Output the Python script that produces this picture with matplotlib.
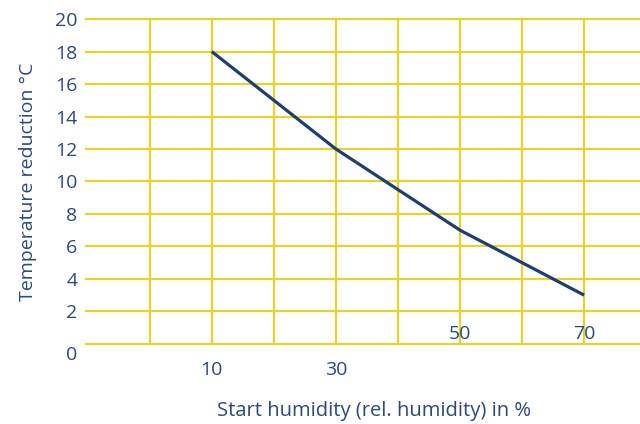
import matplotlib.pyplot as plt
from matplotlib import transforms

humidity = [10, 20, 30, 40, 50, 60, 70]
temp_reduction = [18, 15, 12, 9.5, 7, 5, 3]
x_grid = [0, 10, 20, 30, 40, 50, 60, 70]
x_ticks = [10, 30, 50, 70]
y_ticks = [0, 2, 4, 6, 8, 10, 12, 14, 16, 18, 20]

navy = "#1d3f6e"
text_col = "#2a4a78"
yellow = "#e6d22e"

plt.rcParams['font.family'] = ['Open Sans', 'DejaVu Sans']

fig = plt.figure(figsize=(6.4, 4.24), dpi=100)
ax = fig.add_axes([0.134, 0.189, 0.866, 0.766])

# grid drawn as lines so the left edge has no vertical line
for y in y_ticks:
    ax.axhline(y, color=yellow, lw=1.6, zorder=1, clip_on=False)
for x in x_grid:
    ax.axvline(x, color=yellow, lw=1.6, zorder=1, clip_on=False)

ax.plot(humidity, temp_reduction, color=navy, lw=2.3, zorder=3,
        solid_capstyle='butt')

ax.set_xlim(-10.3, 79)
ax.set_ylim(0, 20)
for s in ax.spines.values():
    s.set_visible(False)

fs = 14
ax.set_yticks(y_ticks)
ax.set_yticklabels([str(v) for v in y_ticks])
ax.set_xticks(x_ticks)
ax.set_xticklabels([str(v) for v in x_ticks])
ax.tick_params(axis='both', length=0, labelsize=fs, labelcolor=text_col)
ax.tick_params(axis='y', pad=6)
ax.tick_params(axis='x', pad=12)

# the "0" label sits a bit lower, "50" and "70" are above the base line
ylabs = ax.get_yticklabels()
ylabs[0].set_transform(ylabs[0].get_transform() +
                       transforms.ScaledTranslation(0, -9 / 100, fig.dpi_scale_trans))
for lab in ax.get_xticklabels()[2:]:
    lab.set_transform(lab.get_transform() +
                      transforms.ScaledTranslation(0, 36 / 100, fig.dpi_scale_trans))

ax.set_xlabel("Start humidity (rel. humidity) in %", fontsize=14.5,
              color=text_col)
ax.set_ylabel("Temperature reduction °C", fontsize=fs, color=text_col)
ax.xaxis.set_label_coords(0.52, -0.175)
ax.yaxis.set_label_coords(-0.088, 0.5)

fig.savefig("out.png", dpi=100)
